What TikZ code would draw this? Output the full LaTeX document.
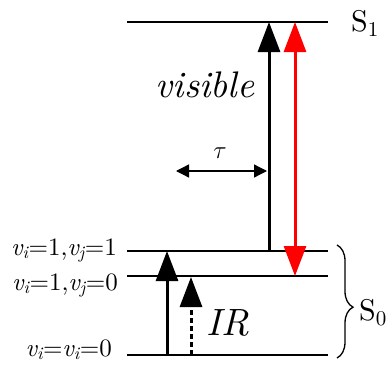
\documentclass[tikz,border=0pt]{standalone}
\usepackage{fontspec}
\setmainfont{lmroman10}[Extension=.otf,UprightFont=*-regular,ItalicFont=*-italic,BoldFont=*-bold,BoldItalicFont=*-bolditalic]
\usetikzlibrary{arrows.meta,decorations.pathreplacing}

\newcommand{\vsub}[2]{{\itshape v}\textsubscript{\itshape #1}=#2}

\begin{document}
\begin{tikzpicture}
  [x=1pt,y=-1pt,
   level/.style={line width=2.3pt},
   trans/.style={line width=3pt,-{Triangle[length=30pt,width=22pt]}},
   every node/.style={inner sep=0pt}]
  \useasboundingbox (0,0) rectangle (388,372);

  % levels
  \coordinate (s1a) at (127,22);  \coordinate (s1b) at (328,22);
  \coordinate (l11a) at (127,251); \coordinate (l11b) at (328,251);
  \coordinate (l10a) at (127,276); \coordinate (l10b) at (328,276);
  \coordinate (l00a) at (127,355); \coordinate (l00b) at (328,355);
  \foreach \a/\b in {s1a/s1b, l11a/l11b, l10a/l10b, l00a/l00b}
    \draw[level] (\a) -- (\b);

  % transitions
  \coordinate (vis0) at (269,251); \coordinate (vis1) at (269,22);
  \coordinate (red0) at (295,276); \coordinate (red1) at (295,22);
  \coordinate (ir0) at (167,355);  \coordinate (ir1) at (167,251);
  \coordinate (irb0) at (191,355); \coordinate (irb1) at (191,277);
  \draw[trans] (vis0) -- (vis1);
  \draw[trans,red,{Triangle[length=30pt,width=22pt]}-{Triangle[length=30pt,width=22pt]}] (red0) -- (red1);
  \draw[trans] (ir0) -- (ir1);
  \draw[trans,dash pattern=on 5pt off 3pt] (irb0) -- (irb1);

  % delay
  \coordinate (tau0) at (176,171); \coordinate (tau1) at (267,171);
  \draw[line width=1.3pt,{Triangle[length=13pt,width=13pt]}-{Triangle[length=13pt,width=13pt]}] (tau0) -- (tau1);
  \node (tau) at (220,153) {\fontsize{28}{28}\selectfont$\tau$};

  % labels
  \node[anchor=base] (vis) at (205,97) {\fontsize{37}{37}\selectfont\itshape visible};
  \node[anchor=base] (ir) at (228,335) {\fontsize{38}{38}\selectfont\itshape IR};
  \node[anchor=base west] (s1) at (351,31) {\fontsize{30}{30}\selectfont S\textsubscript{1}};
  \node[anchor=base west] (s0) at (359,320) {\fontsize{30}{30}\selectfont S\textsubscript{0}};
  \node[anchor=base east] (n11) at (117,255) {\fontsize{25}{25}\selectfont\vsub{i}{1},\vsub{j}{1}};
  \node[anchor=base east] (n10) at (118,290) {\fontsize{25}{25}\selectfont\vsub{i}{1},\vsub{j}{0}};
  \node[anchor=base east] (n00) at (112,356) {\fontsize{25}{25}\selectfont\vsub{i}{}\vsub{i}{0}};

  % ground state brace
  \coordinate (br0) at (337,245); \coordinate (br1) at (337,358);
  \draw[line width=1.3pt,decorate,decoration={brace,amplitude=16pt,aspect=0.55}] (br0) -- (br1);
\end{tikzpicture}
\end{document}
